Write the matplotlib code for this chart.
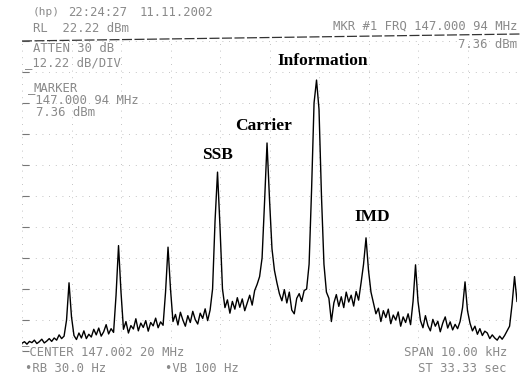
import matplotlib as mpl
mpl.use('Agg')
import matplotlib.pyplot as plt
import numpy as np

# spectrum trace, one value every 0.05 kHz from -5 to +5 kHz (dBm)
trace_dbm = [
    -77.5, -77, -77.8, -76.9, -77.3, -76.5, -77.6, -77, -76.2, -77.4,
    -76.8, -76, -76.9, -75.8, -76.5, -74.8, -76, -75.2, -70, -58,
    -69, -75, -76.3, -74.2, -75.8, -73.5, -76, -74.6, -75.5, -73,
    -74.8, -72.6, -75.2, -73.8, -71.5, -74.5, -72.8, -74, -62, -46,
    -61, -73, -70.5, -74.2, -71.8, -72.9, -69.6, -73.5, -71, -72.4,
    -70.2, -73.6, -70.8, -71.9, -69.4, -72.5, -70.6, -71.7, -61, -46.5,
    -60, -70.5, -68.2, -71.6, -67.5, -70, -72, -68.6, -70.8, -67.2,
    -69.9, -71.3, -67.8, -69.5, -66.4, -70.2, -66.8, -60, -38, -22.3,
    -40, -60, -66, -63.5, -67.8, -64, -66.5, -62.8, -65.9, -63.2,
    -67, -64.5, -62, -65.2, -60.5, -58.5, -56, -50, -32, -12.9,
    -31, -47, -54, -58, -61.5, -63.8, -60.2, -64.5, -61, -66.8,
    -68, -63, -61.5, -64, -60.5, -60, -52, -28, 0, 7.4,
    -2, -30, -52, -61, -63, -70.5, -64.5, -61.8, -65.6, -62.5,
    -66, -61, -64.2, -62, -65.5, -60.8, -63.6, -58, -52, -43.5,
    -54, -61, -64.5, -68, -66.2, -70.5, -67, -69.2, -66.5, -71.2,
    -68.4, -70, -67.4, -72, -69, -70.8, -68, -71.5, -64, -52.2,
    -64, -70.2, -72.5, -68.6, -71.8, -73.5, -69.8, -72, -70.4, -73.8,
    -71, -69, -72.6, -70.6, -73.2, -71.4, -72.8, -70.5, -66, -57.7,
    -67, -71, -73.5, -72, -74.6, -72.8, -75, -73.6, -74.2, -76,
    -74.8, -75.8, -76.5, -75.2, -76.2, -75, -73.5, -72, -65, -56,
    -64,
]
freq_khz = np.linspace(-5, 5, len(trace_dbm))

labels = ['Information', 'Carrier', 'SSB', 'IMD']
label_x_khz = [1.07, -0.13, -1.06, 2.08]
label_y_dbm = [11, -10, -19.5, -39.5]

ref_level = 20
db_per_div = 10

fig = plt.figure(figsize=(5.2, 3.89), dpi=100)
ax = fig.add_axes([22 / 520, 38 / 389, 495 / 520, 310 / 389])

ax.plot(freq_khz, trace_dbm, color='black', lw=1.0)

ax.set_xlim(-5, 5)
ax.set_ylim(ref_level - 10 * db_per_div, ref_level)
ax.set_xticks(np.arange(-5, 6, 1))
ax.set_yticks(np.arange(ref_level - 10 * db_per_div, ref_level + 1, db_per_div))
ax.grid(True, color='#b0b0b0', lw=0.6, linestyle=(0, (1, 7)))
ax.tick_params(axis='both', labelleft=False, labelbottom=False, direction='in',
               length=5, color='#777777', width=0.8)
ax.tick_params(axis='x', length=0)
for side in ['left', 'right', 'bottom', 'top']:
    ax.spines[side].set_visible(False)

# header rule of the screen, scan is a little tilted
fig.add_artist(plt.Line2D([22 / 520, 1.0], [1 - 41 / 389, 1 - 34 / 389],
                          color='#333333', lw=0.9, linestyle=(0, (8, 2))))

for txt, lx, ly in zip(labels, label_x_khz, label_y_dbm):
    ax.text(lx, ly, txt, family='Liberation Serif', weight='bold', fontsize=12.5,
            ha='center', va='bottom', color='black')


def screen_text(x, y, s, ha='left', size=8.8):
    fig.text(x / 520, 1 - y / 389, s, family='DejaVu Sans Mono', fontsize=size,
             color='#8a8a8a', ha=ha, va='center')


screen_text(33, 12, '(hp)', size=8)
screen_text(68, 12, '22:24:27')
screen_text(140, 12, '11.11.2002')
screen_text(33, 28, 'RL  22.22 dBm')
screen_text(33, 48, 'ATTEN 30 dB')
screen_text(25, 63, '_12.22 dB/DIV')
screen_text(33, 88, 'MARKER')
screen_text(28, 100.5, '‾147.000 94 MHz')
screen_text(36, 113, '7.36 dBm')
screen_text(517, 26, 'MKR #1 FRQ 147.000 94 MHz', ha='right')
screen_text(517, 45, '7.36 dBm', ha='right')
screen_text(22, 353, '‾CENTER 147.002 20 MHz')
screen_text(25, 368, '•RB 30.0 Hz')
screen_text(165, 368, '•VB 100 Hz')
screen_text(507, 353, 'SPAN 10.00 kHz', ha='right')
screen_text(507, 368, 'ST 33.33 sec', ha='right')

fig.savefig('out.png', dpi=100)
